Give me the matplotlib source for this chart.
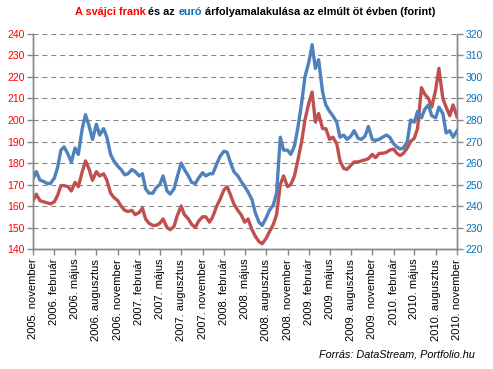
import pandas as pd
import matplotlib
matplotlib.use('Agg')
import matplotlib.pyplot as plt
from matplotlib.offsetbox import TextArea, HPacker, AnchoredOffsetbox

plt.rcParams['font.family'] = ['Liberation Sans', 'DejaVu Sans']

# semi-monthly readings, 2005 november -> 2010 november
dates = pd.date_range('2005-11-01', periods=121, freq='SMS')

# CHF/HUF (left axis)
chf = [162.5, 165.5, 162.5, 162, 161.5, 161, 162, 165, 169.5, 169.5,
       169, 167, 171, 169, 176, 181, 177, 172, 176, 174,
       175, 172, 166, 164, 162.5, 160, 158, 157.5, 158, 156,
       157, 159, 154, 152, 151, 151, 152, 154, 150, 149,
       150.5, 155.5, 160, 156, 154, 151.5, 150, 153, 155, 155,
       152.5, 155, 160, 163, 167.5, 169, 165, 161, 158, 156,
       152.5, 154, 149, 146, 143.5, 142.5, 145, 148, 151.5, 156,
       170, 174, 169, 170, 174, 181, 190, 200, 208, 213,
       199, 203, 196, 196, 191, 192, 189, 181, 177.5, 177,
       179, 180.5, 180.5, 181, 181.5, 182, 184, 182.5, 184.5, 184.5,
       185, 186, 186.5, 184.5, 183.5, 184.5, 187, 190, 191.5, 196,
       215, 212, 210, 206, 214, 224, 210, 206, 202, 207, 201.5]

# EUR/HUF (right axis)
eur = [252.7, 256, 252, 251.5, 250.5, 250.5, 253, 258, 266, 267.5,
       264, 260.5, 267, 264, 276, 282.5, 277, 271, 278, 273,
       276, 272, 264, 261, 258.5, 257, 254.5, 255, 257, 256,
       254, 255, 248, 246, 246, 248.5, 250, 254, 247, 245.6,
       248, 253.5, 260, 257, 254, 251, 250.5, 253, 255.5, 254,
       255, 255, 259.5, 263, 265.5, 265, 260, 256, 254, 251.5,
       249, 246.5, 243, 237, 232.5, 231, 234.5, 238, 240.5, 246,
       272, 266, 266, 264, 268, 276, 288, 300, 307, 315,
       304, 308, 293, 287, 284, 282, 279, 272, 273, 271,
       272.5, 275, 271.5, 271, 272.5, 277, 271, 270.5, 271, 272,
       273, 272, 269, 267.5, 266.5, 267, 270, 280, 279, 284,
       281, 285, 287, 282, 281, 286, 283, 274, 275, 272, 275]

tick_dates = pd.date_range('2005-11-01', '2010-11-01', freq='3MS')
months_hu = {2: 'február', 5: 'május', 8: 'augusztus', 11: 'november'}
tick_labels = ['%d. %s' % (d.year, months_hu[d.month]) for d in tick_dates]

RED_TXT = '#FF0000'
BLUE_TXT = '#0070C0'
RED_LINE = '#C0504D'
BLUE_LINE = '#4F81BD'
GREY = '#868686'

fig = plt.figure(figsize=(4.93, 3.69), dpi=100)
ax = fig.add_axes([0.067, 0.325, 0.86, 0.583])
ax2 = ax.twinx()

ax.plot(dates, chf, color=RED_LINE, lw=2.4)
ax2.plot(dates, eur, color=BLUE_LINE, lw=2.4)

ax.set_ylim(140, 240)
ax2.set_ylim(220, 320)
ax.set_yticks(range(140, 241, 10))
ax2.set_yticks(range(220, 321, 10))
ax.set_xlim(dates[0], dates[-1])
ax.set_xticks(tick_dates)
ax.set_xticklabels(tick_labels, rotation=90, fontsize=8)

ax.grid(axis='y', color=GREY, lw=0.8, linestyle=(0, (4.5, 3.5)))
ax.set_axisbelow(True)

for a in (ax, ax2):
    a.spines['top'].set_visible(False)
    for side in ('left', 'right', 'bottom'):
        a.spines[side].set_color(GREY)
        a.spines[side].set_linewidth(1.0)
    a.tick_params(color=GREY, length=4, width=1.0, pad=2)

ax.tick_params(axis='y', labelcolor=RED_TXT, labelsize=7.5)
ax2.tick_params(axis='y', labelcolor=BLUE_TXT, labelsize=7.5)
ax.tick_params(axis='x', pad=3)

# title with coloured words
parts = [('A svájci frank', RED_TXT), ('és az', 'black'), ('euró', BLUE_TXT),
         ('árfolyamalakulása az elmúlt öt évben (forint)', 'black')]
boxes = [TextArea(s, textprops=dict(color=c, fontsize=7.8, fontweight='bold'))
         for s, c in parts]
title = AnchoredOffsetbox(loc='upper center',
                          child=HPacker(children=boxes, align='baseline',
                                        pad=0, sep=2.2),
                          bbox_to_anchor=(0.517, 0.98),
                          bbox_transform=fig.transFigure,
                          frameon=False, pad=0, borderpad=0)
fig.add_artist(title)

fig.text(0.963, 0.03, 'Forrás: DataStream, Portfolio.hu', ha='right',
         va='baseline', fontsize=7.8, style='italic')

fig.savefig('out.png', dpi=100)
